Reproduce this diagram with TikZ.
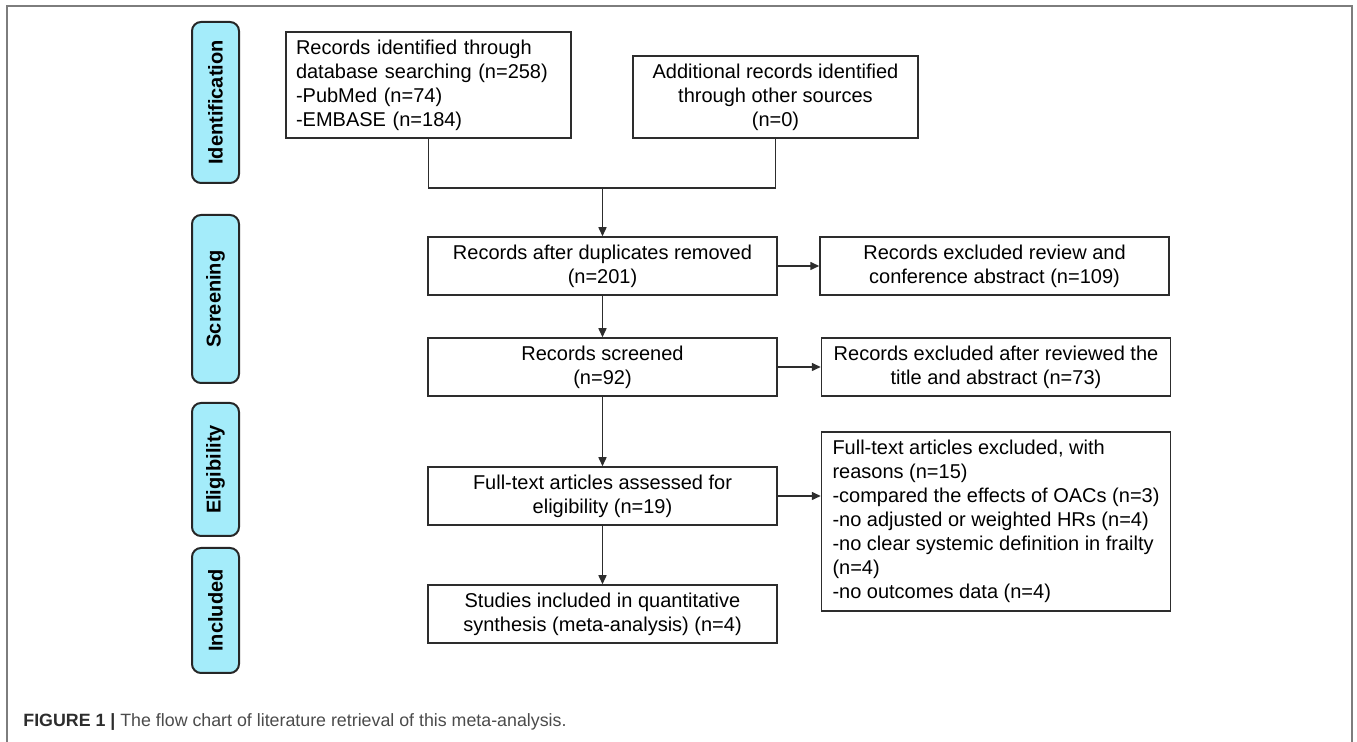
\documentclass[tikz,border=0pt]{standalone}
\usepackage{fontspec}
\setsansfont{Liberation Sans}
\usetikzlibrary{arrows.meta}
\definecolor{stagecyan}{RGB}{164,236,250}
\definecolor{linegray}{RGB}{45,45,45}
\definecolor{framegray}{RGB}{125,125,125}
\definecolor{captiongray}{RGB}{75,75,75}

\begin{document}
\begin{tikzpicture}[x=0.5pt,y=-0.5pt,
base/.style={
draw=linegray,
line width=0.75pt,
inner sep=0pt,
},
txt/.style={
font={\sffamily\color{black} \fontsize{10pt}{12pt}\selectfont},
},
box/.style={
base,
txt,
align=center,
minimum width=174.5pt,
minimum height=29pt,
},
side/.style={
base,
txt,
align=left,
inner xsep=5pt,
},
stage/.style={
base,
rotate=90,
rounded corners=4.5pt,
draw=black!85,
line width=1pt,
fill=stagecyan,
minimum height=23.5pt,
font={\sffamily\bfseries\color{black} \fontsize{10pt}{12pt}\selectfont},
},
arr/.style={
draw=linegray,
line width=0.75pt,
-{Triangle[length=4.5pt,width=4pt]},
},
line/.style={
draw=linegray,
line width=0.75pt,
},
frame/.style={
draw=framegray,
line width=0.75pt,
},
]
\useasboundingbox (0,0) rectangle (1357,742);
\draw[frame] (7,742) -- (7,6) -- (1352,6) -- (1352,742);

% stages
\node[stage,minimum width=80.5pt] (sid) at (215.5,102.5) {Identification};
\node[stage,minimum width=84pt] (sscr) at (215.5,299) {Screening};
\node[stage,minimum width=66.5pt] (selig) at (215.5,469.5) {Eligibility};
\node[stage,minimum width=62.5pt] (sinc) at (215.5,610.5) {Included};

% flow
\node[side,text width=132.5pt,minimum height=53pt] (rec) at (428.5,85) {Records identified through\\database searching (n=258)\\-PubMed (n=74)\\-EMBASE (n=184)};
\node[box,minimum width=142.5pt,minimum height=41pt] (add) at (775.5,97) {Additional records identified\\through other sources\\(n=0)};
\node[box] (dup) at (602.5,266) {Records after duplicates removed\\(n=201)};
\node[box] (scr) at (602.5,367) {Records screened\\(n=92)};
\node[box] (ft) at (602.5,496) {Full-text articles assessed for\\eligibility (n=19)};
\node[box] (inc) at (602.5,614) {Studies included in quantitative\\synthesis (meta-analysis) (n=4)};

% exclusions
\node[box] (ex1) at (994.5,266) {Records excluded review and\\conference abstract (n=109)};
\node[box] (ex2) at (996,367) {Records excluded after reviewed the\\title and abstract (n=73)};
\node[box,align=left,minimum height=89.5pt] (ex3) at (996,521.5) {Full-text articles excluded, with\\reasons (n=15)\\-compared the effects of OACs (n=3)\\-no adjusted or weighted HRs (n=4)\\-no clear systemic definition in frailty\\(n=4)\\-no outcomes data (n=4)};

\coordinate (join) at (602.5,188);
\draw[line] (rec.south) |- (join) -| (add.south);
\draw[arr] (join) -- (dup);
\draw[arr] (dup) -- (scr);
\draw[arr] (scr) -- (ft);
\draw[arr] (ft) -- (inc);
\draw[arr] (dup) -- (ex1);
\draw[arr] (scr) -- (ex2);
\draw[arr] (ft.east) -- (ft.east -| ex3.west);

\node[anchor=base west,inner sep=0pt,font={\sffamily\color{captiongray} \fontsize{8.9pt}{10pt}\selectfont}] (cap) at (23,727) {{\bfseries\color{linegray}FIGURE 1 |} The flow chart of literature retrieval of this meta-analysis.};

\end{tikzpicture}
\end{document}
